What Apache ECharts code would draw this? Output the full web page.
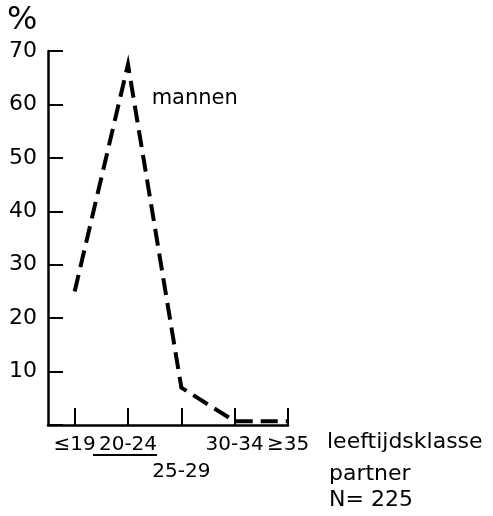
<!DOCTYPE html>
<html><head><meta charset="utf-8">
<script src="https://cdn.jsdelivr.net/npm/echarts@6/dist/echarts.min.js"></script>
<style>html,body{margin:0;padding:0;background:#fff}#c{width:493px;height:516px}</style>
</head><body><div id="c"></div>
<script>
// ---- data ----
const categories = ['≤19', '20-24', '25-29', '30-34', '≥35'];
const categoryPositions = [0, 1, 2, 3, 4];
const mannen = [25, 67.5, 7, 0.7, 0.7];
const seriesName = 'mannen';
const axisTitleLines = ['leeftijdsklasse', 'partner', 'N= 225'];
const unitLabel = '%';

const font = '"DejaVu Sans", Verdana, sans-serif';
const ink = '#000';

const chart = echarts.init(document.getElementById('c'), null, { renderer: 'canvas' });

const option = {
  animation: false,
  backgroundColor: '#fff',
  grid: { left: 48, top: 51, width: 240, height: 374 },
  xAxis: {
    type: 'value',
    min: -0.5,
    max: 4,
    axisLine: { show: true, onZero: false, lineStyle: { color: ink, width: 2.5 } },
    axisTick: { show: true, inside: true, length: 17, customValues: categoryPositions, lineStyle: { color: ink, width: 2 } },
    splitLine: { show: false },
    axisLabel: {
      customValues: categoryPositions,
      margin: 6,
      color: ink,
      fontFamily: font,
      fontSize: 20,
      lineHeight: 27,
      formatter: function (v) {
        const i = Math.round(v);
        return i === 2 ? '\n' + categories[i] : categories[i];
      }
    }
  },
  yAxis: {
    type: 'value',
    min: 0,
    max: 70,
    interval: 10,
    axisLine: { show: true, onZero: false, lineStyle: { color: ink, width: 2.5 } },
    axisTick: { show: true, inside: true, length: 15, lineStyle: { color: ink, width: 2 } },
    splitLine: { show: false },
    axisLabel: {
      margin: 11,
      color: ink,
      fontFamily: font,
      fontSize: 22,
      formatter: function (v) { return v === 0 ? '' : String(v); }
    }
  },
  series: [{
    name: seriesName,
    type: 'line',
    data: categoryPositions.map((x, i) => [x, mannen[i]]),
    symbol: 'none',
    lineStyle: { color: ink, width: 4, type: [17, 8], cap: 'butt', join: 'miter' }
  }]
};
chart.setOption(option);

// text annotations and underline positioned from the axes
const tick1 = chart.convertToPixel({ xAxisIndex: 0, yAxisIndex: 0 }, [1, 0]);
const end = chart.convertToPixel({ xAxisIndex: 0, yAxisIndex: 0 }, [4, 0]);
const labelPos = chart.convertToPixel({ xAxisIndex: 0, yAxisIndex: 0 }, [1.5, 60]);
chart.setOption({
  graphic: [
    { type: 'text', left: 7, top: 5, style: { text: unitLabel, font: '32px ' + font, fill: ink } },
    { type: 'text', x: labelPos[0] - 3, y: labelPos[1] - 6, style: { text: seriesName, font: '21px ' + font, fill: ink, verticalAlign: 'middle' } },
    { type: 'text', x: end[0] + 39, y: end[1] + 6, style: { text: axisTitleLines[0], font: '22px ' + font, fill: ink } },
    { type: 'text', x: end[0] + 41, y: end[1] + 38, style: { text: axisTitleLines[1], font: '22px ' + font, fill: ink } },
    { type: 'text', x: end[0] + 41, y: end[1] + 64, style: { text: axisTitleLines[2], font: '22px ' + font, fill: ink } },
    { type: 'line', shape: { x1: tick1[0] - 35, y1: tick1[1] + 30, x2: tick1[0] + 29, y2: tick1[1] + 30 }, style: { stroke: ink, lineWidth: 2 } }
  ]
});
</script>
</body></html>
